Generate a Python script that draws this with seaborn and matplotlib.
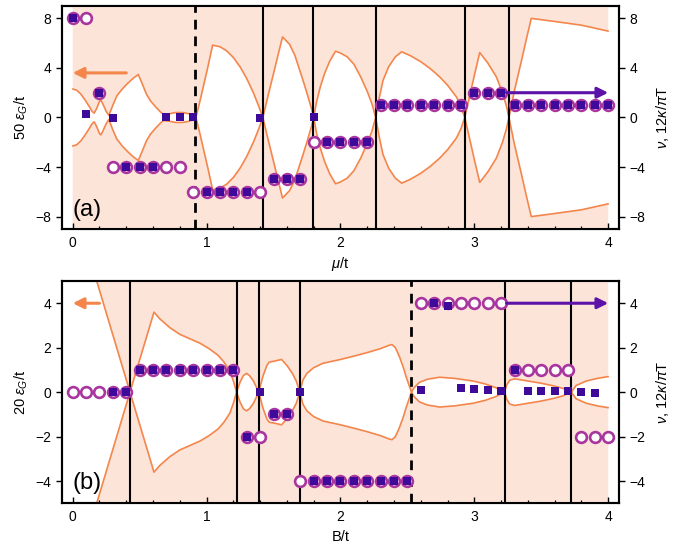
import numpy as np
import pandas as pd
import matplotlib
matplotlib.use("Agg")
import matplotlib.pyplot as plt
from matplotlib.ticker import MultipleLocator, FixedLocator
import seaborn as sns

sns.set_theme(style="white")
plt.rcParams['font.family'] = ['Liberation Sans', 'DejaVu Sans']
plt.rcParams['mathtext.fontset'] = 'custom'
plt.rcParams['mathtext.rm'] = 'Liberation Sans'
plt.rcParams['mathtext.it'] = 'Liberation Sans:italic'
plt.rcParams['xtick.bottom'] = True
plt.rcParams['ytick.left'] = True
plt.rcParams['xtick.major.size'] = 4
plt.rcParams['xtick.minor.size'] = 2.5
plt.rcParams['ytick.major.size'] = 4
plt.rcParams['xtick.color'] = 'black'
plt.rcParams['ytick.color'] = 'black'
plt.rcParams['text.color'] = 'black'
plt.rcParams['axes.labelcolor'] = 'black'
plt.rcParams['xtick.minor.visible'] = True

# ---------------- data: panel (a) ----------------
gap_a_x = [0.00, 0.03, 0.06, 0.09, 0.12, 0.145, 0.16, 0.18, 0.20, 0.21, 0.225, 0.25, 0.27,
           0.30, 0.33, 0.37, 0.41, 0.45, 0.49, 0.52, 0.55, 0.58, 0.62, 0.66, 0.68,
           0.72, 0.77, 0.82, 0.87, 0.90, 0.92,
           0.95, 0.98, 1.01, 1.045, 1.10, 1.15, 1.20, 1.25, 1.30, 1.35, 1.39, 1.42,
           1.46, 1.50, 1.535, 1.567, 1.62, 1.66, 1.69, 1.72, 1.75, 1.78, 1.80,
           1.82, 1.85, 1.883, 1.92, 1.963, 2.00, 2.05, 2.10, 2.15, 2.20, 2.235, 2.263,
           2.29, 2.318, 2.36, 2.41, 2.457, 2.52, 2.60, 2.67, 2.741, 2.80, 2.866, 2.90, 2.928,
           2.96, 3.00, 3.04, 3.10, 3.164, 3.21, 3.24, 3.258,
           3.30, 3.35, 3.39, 3.425, 3.60, 3.80, 4.00]
gap_a_y = [2.30, 2.20, 1.90, 1.45, 0.95, 0.50, 0.35, 0.75, 1.30, 1.40, 1.10, 0.50, 0.17,
           1.00, 1.75, 2.30, 2.75, 3.15, 3.47, 2.70, 1.90, 1.35, 0.85, 0.40, 0.25,
           0.30, 0.40, 0.40, 0.30, 0.15, 0.00,
           1.30, 2.70, 4.10, 5.84, 5.71, 5.38, 4.84, 4.09, 3.14, 1.98, 0.90, 0.00,
           1.80, 3.55, 5.10, 6.50, 5.90, 5.00, 4.00, 3.00, 1.95, 0.85, 0.00,
           1.20, 2.50, 3.60, 4.55, 5.35, 5.20, 4.90, 4.30, 3.30, 2.10, 1.10, 0.00,
           1.60, 3.00, 4.10, 4.90, 5.30, 5.00, 4.50, 3.95, 3.28, 2.60, 1.66, 0.90, 0.00,
           1.50, 3.40, 5.24, 4.40, 3.28, 2.00, 0.90, 0.00,
           2.20, 4.50, 6.40, 8.00, 7.75, 7.45, 6.97]

circ_a_x = [0.0, 0.1, 0.2, 0.3, 0.4, 0.5, 0.6, 0.7, 0.8, 0.9, 1.0, 1.1, 1.2, 1.3, 1.4,
            1.5, 1.6, 1.7, 1.8, 1.9, 2.0, 2.1, 2.2, 2.3, 2.4, 2.5, 2.6, 2.7, 2.8, 2.9,
            3.0, 3.1, 3.2, 3.3, 3.4, 3.5, 3.6, 3.7, 3.8, 3.9, 4.0]
circ_a_y = [8, 8, 2, -4, -4, -4, -4, -4, -4, -6, -6, -6, -6, -6, -6,
            -5, -5, -5, -2, -2, -2, -2, -2, 1, 1, 1, 1, 1, 1, 1,
            2, 2, 2, 1, 1, 1, 1, 1, 1, 1, 1]
sq_a_x = [0.0, 0.1, 0.2, 0.3, 0.4, 0.5, 0.6, 0.7, 0.8, 0.9, 1.0, 1.1, 1.2, 1.3, 1.4,
          1.5, 1.6, 1.7, 1.8, 1.9, 2.0, 2.1, 2.2, 2.3, 2.4, 2.5, 2.6, 2.7, 2.8, 2.9,
          3.0, 3.1, 3.2, 3.3, 3.4, 3.5, 3.6, 3.7, 3.8, 3.9, 4.0]
sq_a_y = [8, 0.25, 2, -0.05, -4, -4, -4, 0, 0, 0, -6, -6, -6, -6, -0.08,
          -5, -5, -5, 0, -2, -2, -2, -2, 1, 1, 1, 1, 1, 1, 1,
          2, 2, 2, 1, 1, 1, 1, 1, 1, 1, 1]
vlines_a_solid = [1.422, 1.796, 2.263, 2.928, 3.258]
vlines_a_dashed = [0.915]

# ---------------- data: panel (b) ----------------
gap_b_x = [0.00, 0.428,
           0.47, 0.52, 0.56, 0.607, 0.65, 0.726, 0.80, 0.951, 1.02, 1.087, 1.13, 1.174, 1.20, 1.224,
           1.25, 1.275, 1.298, 1.32, 1.35, 1.39,
           1.42, 1.45, 1.467, 1.51, 1.56, 1.60, 1.64, 1.67, 1.696,
           1.72, 1.75, 1.80, 1.87, 2.00, 2.10, 2.20, 2.30, 2.36, 2.385, 2.41, 2.44, 2.47, 2.49, 2.53,
           2.55, 2.59, 2.65, 2.74, 2.85, 2.99, 3.08, 3.16, 3.226,
           3.24, 3.263, 3.30, 3.40, 3.50, 3.60, 3.66, 3.724,
           3.76, 3.836, 3.92, 4.00]
gap_b_y = [8.60, 0.00,
           0.85, 1.85, 2.65, 3.60, 3.30, 2.90, 2.60, 2.20, 1.95, 1.65, 1.35, 0.94, 0.50, 0.00,
           0.45, 0.75, 0.84, 0.75, 0.50, 0.00,
           0.70, 1.20, 1.35, 1.40, 1.47, 1.20, 0.85, 0.50, 0.00,
           0.55, 0.85, 1.10, 1.30, 1.47, 1.62, 1.78, 1.96, 2.10, 2.14, 2.00, 1.60, 1.10, 0.70, 0.00,
           0.20, 0.44, 0.58, 0.67, 0.62, 0.50, 0.37, 0.20, 0.00,
           0.30, 0.53, 0.60, 0.50, 0.40, 0.27, 0.17, 0.00,
           0.30, 0.50, 0.62, 0.70]

circ_b_x = [0.0, 0.1, 0.2, 0.3, 0.4, 0.5, 0.6, 0.7, 0.8, 0.9, 1.0, 1.1, 1.2, 1.3, 1.4,
            1.5, 1.6, 1.7, 1.8, 1.9, 2.0, 2.1, 2.2, 2.3, 2.4, 2.5, 2.6, 2.7, 2.8, 2.9,
            3.0, 3.1, 3.2, 3.3, 3.4, 3.5, 3.6, 3.7, 3.8, 3.9, 4.0]
circ_b_y = [0, 0, 0, 0, 0, 1, 1, 1, 1, 1, 1, 1, 1, -2, -2,
            -1, -1, -4, -4, -4, -4, -4, -4, -4, -4, -4, 4, 4, 4, 4,
            4, 4, 4, 1, 1, 1, 1, 1, -2, -2, -2]
sq_b_x = [0.3, 0.4, 0.5, 0.6, 0.7, 0.8, 0.9, 1.0, 1.1, 1.2, 1.3, 1.4,
          1.5, 1.6, 1.7, 1.8, 1.9, 2.0, 2.1, 2.2, 2.3, 2.4, 2.5, 2.6, 2.7, 2.8, 2.9,
          3.0, 3.1, 3.2, 3.3, 3.4, 3.5, 3.6, 3.7, 3.8, 3.9]
sq_b_y = [0, 0, 1, 1, 1, 1, 1, 1, 1, 1, -2, 0,
          -1, -1, 0, -4, -4, -4, -4, -4, -4, -4, -4, 0.08, 4, 3.87, 0.2,
          0.13, 0.08, 0.04, 1, 0.05, 0.05, 0.05, 0.03, 0.0, -0.02]
vlines_b_solid = [0.428, 1.224, 1.39, 1.696, 3.226, 3.724]
vlines_b_dashed = [2.53]

# ---------------- style ----------------
PINK = '#fce4d9'
ORANGE = '#f4864c'
MAGENTA = '#a8369e'
INDIGO = '#3d0a99'
PURPLE = '#5c12a8'

fig = plt.figure(figsize=(6.95, 5.55), dpi=100)
ax_a = fig.add_axes([0.0892, 0.5874, 0.8014, 0.4018])
ax_b = fig.add_axes([0.0892, 0.0932, 0.8014, 0.4005])


def draw_panel(ax, gx, gy, cx, cy, sx, sy, vs, vd, ylim, yticks, ylabel, xlabel, tag, tag_y,
               arrow_l, arrow_r):
    gx = np.asarray(gx, float)
    gy = np.asarray(gy, float)
    big = 50
    ax.fill_between(gx, gy, big, color=PINK, lw=0, zorder=0)
    ax.fill_between(gx, -big, -gy, color=PINK, lw=0, zorder=0)
    df_up = pd.DataFrame({'x': gx, 'y': gy})
    df_dn = pd.DataFrame({'x': gx, 'y': -gy})
    sns.lineplot(data=df_up, x='x', y='y', ax=ax, color=ORANGE, lw=1.2, sort=False,
                 estimator=None, zorder=2)
    sns.lineplot(data=df_dn, x='x', y='y', ax=ax, color=ORANGE, lw=1.2, sort=False,
                 estimator=None, zorder=2)
    for v in vs:
        ax.axvline(v, color='black', lw=1.5, zorder=2.5)
    for v in vd:
        ax.axvline(v, color='black', lw=2.0, ls=(0, (3.5, 2.5)), zorder=2.5)
    sns.scatterplot(x=cx, y=cy, ax=ax, marker='o', s=60, facecolor='white',
                    edgecolor=MAGENTA, linewidth=1.9, zorder=3)
    sns.scatterplot(x=sx, y=sy, ax=ax, marker='s', s=38, color=INDIGO,
                    linewidth=0, zorder=4)
    (lx0, lx1, ly) = arrow_l
    ax.annotate('', xy=(lx1, ly), xytext=(lx0, ly),
                arrowprops=dict(arrowstyle='-|>', color=ORANGE, lw=2.2,
                                mutation_scale=16, shrinkA=0, shrinkB=0), zorder=5)
    (rx0, rx1, ry) = arrow_r
    ax.annotate('', xy=(rx1, ry), xytext=(rx0, ry),
                arrowprops=dict(arrowstyle='-|>', color=PURPLE, lw=2.2,
                                mutation_scale=16, shrinkA=0, shrinkB=0), zorder=5)
    ax.set_xlim(-0.08, 4.08)
    ax.set_ylim(*ylim)
    ax.xaxis.set_major_locator(FixedLocator([0, 1, 2, 3, 4]))
    ax.set_xticklabels(['0', '1', '2', '3', '4'])
    ax.xaxis.set_minor_locator(MultipleLocator(0.2))
    ax.set_yticks(yticks)
    ax.set_yticklabels([f'{t:d}'.replace('-', '\u2212') for t in yticks])
    ax.set_ylabel(ylabel, fontsize=10.5, labelpad=4, color='black')
    ax.set_xlabel(xlabel, fontsize=10.5, labelpad=4, color='black')
    for sp in ax.spines.values():
        sp.set_linewidth(1.5)
        sp.set_color('black')
    ax.text(0.0, tag_y, tag, fontsize=17, ha='left', va='center', zorder=6, color='black')
    ax.grid(False)

    ax2 = ax.twinx()
    ax2.set_ylim(*ylim)
    ax2.set_yticks(yticks)
    ax2.set_yticklabels([f'{t:d}'.replace('-', '\u2212') for t in yticks])
    ax2.tick_params(axis='y', which='major', direction='out', length=4, width=1.0,
                    labelsize=10, right=True, left=False, colors='black')
    ax2.set_ylabel(r'$\nu$, 12$\kappa$/$\pi$T', fontsize=10.5, labelpad=6, color='black')
    for sp in ax2.spines.values():
        sp.set_linewidth(1.5)
        sp.set_color('black')
    ax2.grid(False)

    ax.tick_params(axis='x', which='major', direction='in', length=4, width=1.0,
                   labelsize=10, pad=5, bottom=True, top=False, colors='black')
    ax.tick_params(axis='x', which='minor', direction='in', length=2.5, width=0.9,
                   bottom=True, top=False, colors='black')
    ax.tick_params(axis='y', which='major', direction='out', length=4, width=1.0,
                   labelsize=10, left=True, right=False, colors='black')
    ax.tick_params(axis='y', which='minor', left=False, right=False)
    ax2.tick_params(axis='y', which='minor', left=False, right=False)
    ax.set_zorder(1)
    ax.patch.set_visible(False)
    ax2.set_zorder(0)


draw_panel(ax_a, gap_a_x, gap_a_y, circ_a_x, circ_a_y, sq_a_x, sq_a_y,
           vlines_a_solid, vlines_a_dashed, (-9, 9), [-8, -4, 0, 4, 8],
           r'50 $\epsilon_G$/t', r'$\mu$/t', '(a)', -7.5,
           (0.40, 0.0, 3.6), (3.24, 4.0, 2.0))
draw_panel(ax_b, gap_b_x, gap_b_y, circ_b_x, circ_b_y, sq_b_x, sq_b_y,
           vlines_b_solid, vlines_b_dashed, (-5, 5), [-4, -2, 0, 2, 4],
           r'20 $\epsilon_G$/t', 'B/t', '(b)', -4.1,
           (0.20, 0.0, 4.0), (3.24, 4.0, 4.0))

fig.savefig('out.png', dpi=100)
